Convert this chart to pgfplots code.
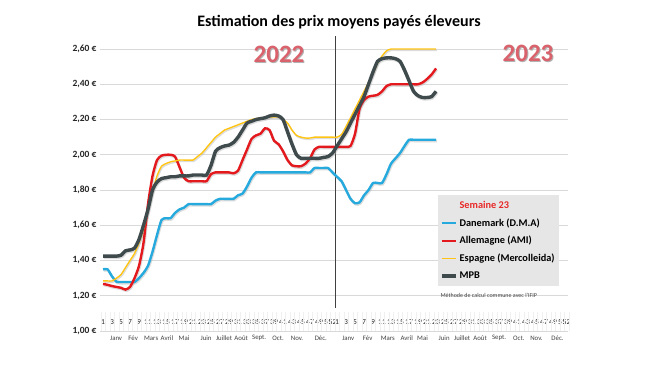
\documentclass[border=0pt]{standalone}
\usepackage{fontspec}
\setmainfont{Carlito}
\usepackage{pgfplots}
\usepackage{pgfplotstable}
\pgfplotsset{compat=1.18}
\definecolor{dkblue}{RGB}{38,170,222}
\definecolor{dered}{RGB}{228,25,30}
\definecolor{esyel}{RGB}{255,196,20}
\definecolor{mpbgray}{RGB}{62,74,76}
\definecolor{yearred}{RGB}{218,98,108}
\definecolor{legfill}{RGB}{231,230,230}
\definecolor{semred}{RGB}{232,40,40}

\pgfplotstableread{
w dk de es mpb
1 1.350 1.267 1.284 1.425
2 1.350 1.262 1.284 1.425
3 1.310 1.255 1.284 1.425
4 1.280 1.250 1.300 1.425
5 1.278 1.245 1.320 1.430
6 1.278 1.235 1.360 1.455
7 1.278 1.250 1.400 1.460
8 1.278 1.300 1.440 1.470
9 1.300 1.370 1.500 1.520
10 1.330 1.500 1.580 1.600
11 1.370 1.720 1.680 1.690
12 1.450 1.880 1.790 1.800
13 1.545 1.970 1.880 1.845
14 1.630 1.995 1.935 1.865
15 1.640 2.000 1.950 1.870
16 1.640 2.000 1.960 1.875
17 1.670 1.990 1.965 1.875
18 1.690 1.930 1.970 1.880
19 1.700 1.870 1.970 1.880
20 1.720 1.850 1.970 1.880
21 1.720 1.850 1.970 1.885
22 1.720 1.850 1.990 1.885
23 1.720 1.850 2.010 1.885
24 1.720 1.850 2.040 1.885
25 1.720 1.890 2.070 1.940
26 1.740 1.900 2.100 2.020
27 1.750 1.900 2.120 2.040
28 1.750 1.900 2.140 2.050
29 1.750 1.900 2.150 2.055
30 1.750 1.895 2.160 2.070
31 1.770 1.910 2.170 2.100
32 1.780 1.970 2.180 2.140
33 1.820 2.030 2.190 2.180
34 1.870 2.090 2.200 2.190
35 1.900 2.110 2.205 2.200
36 1.900 2.120 2.210 2.205
37 1.900 2.150 2.210 2.210
38 1.900 2.140 2.215 2.220
39 1.900 2.080 2.215 2.225
40 1.900 2.060 2.215 2.220
41 1.900 2.020 2.200 2.200
42 1.900 1.970 2.180 2.130
43 1.900 1.940 2.140 2.060
44 1.900 1.935 2.110 2.000
45 1.900 1.935 2.100 1.980
46 1.900 1.950 2.095 1.980
47 1.900 1.980 2.095 1.980
48 1.925 2.030 2.100 1.980
49 1.925 2.045 2.100 1.980
50 1.925 2.045 2.100 1.985
51 1.925 2.045 2.100 1.990
52 1.900 2.045 2.100 2.010
53 1.875 2.045 2.100 2.050
54 1.850 2.045 2.115 2.090
55 1.800 2.045 2.160 2.130
56 1.750 2.050 2.210 2.180
57 1.725 2.120 2.260 2.230
58 1.730 2.260 2.310 2.280
59 1.770 2.310 2.360 2.330
60 1.800 2.330 2.410 2.400
61 1.840 2.335 2.460 2.470
62 1.840 2.340 2.520 2.530
63 1.840 2.360 2.560 2.545
64 1.890 2.390 2.590 2.550
65 1.950 2.400 2.600 2.550
66 1.980 2.400 2.600 2.545
67 2.010 2.400 2.600 2.530
68 2.050 2.400 2.600 2.480
69 2.085 2.400 2.600 2.420
70 2.085 2.400 2.600 2.360
71 2.085 2.400 2.600 2.335
72 2.085 2.410 2.600 2.325
73 2.085 2.430 2.600 2.325
74 2.085 2.455 2.600 2.330
75 2.085 2.490 2.600 2.360
}\prices

\begin{document}
\begin{tikzpicture}[
  month/.style={font=\fontsize{6.8}{7}\selectfont, text=black!75, yshift=-7pt},
  shadow/.style={black!30, opacity=0.45, smooth, tension=0.4, xshift=0.8pt, yshift=-1.3pt}]
\useasboundingbox[fill=white] (0pt,0pt) rectangle (650pt,366pt);
\begin{axis}[
  at={(100pt,35pt)}, anchor=south west, scale only axis,
  width=467.9pt, height=295pt,
  xmin=0.33, xmax=104.3, ymin=1, ymax=2.674,
  axis line style={draw=none}, tick style={draw=none},
  ytick={1,1.2,1.4,1.6,1.8,2.0,2.2,2.4,2.6},
  yticklabels={{1,00 €},{1,20 €},{1,40 €},{1,60 €},{1,80 €},{2,00 €},{2,20 €},{2,40 €},{2,60 €}},
  yticklabel style={font=\bfseries\fontsize{9.5}{11}\selectfont, text=black!85},
  ymajorgrids, grid style={gray!30, line width=0.7pt},
  xtick={1,3,5,7,9,11,13,15,17,19,21,23,25,27,29,31,33,35,37,39,41,43,45,47,49,51,52,53,55,57,59,61,63,65,67,69,71,73,75,77,79,81,83,85,87,89,91,93,95,97,99,101,103,104},
  xticklabels={1,3,5,7,9,11,13,15,17,19,21,23,25,27,29,31,33,35,37,39,41,43,45,47,49,51,52,1,3,5,7,9,11,13,15,17,19,21,23,25,27,29,31,33,35,37,39,41,43,45,47,49,51,52},
  xticklabel style={font=\fontsize{7.6}{8}\selectfont, text=black!85, anchor=center, yshift=9pt},
  clip=false,
  legend style={at={(0.7224,0.461)}, anchor=north west, fill=legfill, draw=none,
    font=\bfseries\fontsize{10.3}{12}\selectfont, row sep=4.6pt, inner xsep=2pt, inner ysep=4pt,
    /tikz/every even column/.append style={column sep=0pt}},
  legend cell align=left,
  legend image code/.code={\draw[#1] (0pt,0pt) -- (14pt,0pt);},
]
\pgfplotsinvokeforeach{0.5,1.5,...,104.5}{\draw[gray!12, line width=0.4pt] (axis cs:#1,1.0) -- (axis cs:#1,1.105);}
\draw[black!75, line width=0.9pt] (axis cs:52.6,1.13) -- (axis cs:52.6,2.674);

\addlegendimage{empty legend}
\addlegendentry{\textcolor{semred}{Semaine 23}}

\addplot[forget plot, shadow, line width=2.4pt] table[x=w,y=dk]{\prices};
\addplot[forget plot, shadow, line width=2.4pt] table[x=w,y=de]{\prices};
\addplot[forget plot, shadow, line width=1.4pt] table[x=w,y=es]{\prices};
\addplot[forget plot, shadow, line width=3.4pt] table[x=w,y=mpb]{\prices};

\addplot[dkblue, line width=2.4pt, smooth, tension=0.4] table[x=w,y=dk]{\prices};
\addlegendentry{Danemark (D.M.A)}
\addplot[dered, line width=2.4pt, smooth, tension=0.4] table[x=w,y=de]{\prices};
\addlegendentry{Allemagne (AMI)}
\addplot[esyel, line width=1.4pt, smooth, tension=0.4] table[x=w,y=es]{\prices};
\addlegendentry{Espagne (Mercolleida)}
\addplot[mpbgray, line width=3.4pt, smooth, tension=0.4] table[x=w,y=mpb]{\prices};
\addlegendentry{MPB}

\node[month] at (axis cs:3.9,1) {Janv};
\node[month] at (axis cs:7.7,1) {Fév};
\node[month] at (axis cs:11.7,1) {Mars};
\node[month] at (axis cs:15.2,1) {Avril};
\node[month] at (axis cs:19,1) {Mai};
\node[month] at (axis cs:23.9,1) {Juin};
\node[month] at (axis cs:27.9,1) {Juillet};
\node[month] at (axis cs:31.7,1) {Août};
\node[month] at (axis cs:35.7,1) {Sept.};
\node[month] at (axis cs:39.9,1) {Oct.};
\node[month] at (axis cs:44.1,1) {Nov.};
\node[month] at (axis cs:49.4,1) {Déc.};
\node[month] at (axis cs:55.5,1) {Janv};
\node[month] at (axis cs:59.8,1) {Fév};
\node[month] at (axis cs:64.3,1) {Mars};
\node[month] at (axis cs:68.5,1) {Avril};
\node[month] at (axis cs:72,1) {Mai};
\node[month] at (axis cs:76.8,1) {Juin};
\node[month] at (axis cs:80.8,1) {Juillet};
\node[month] at (axis cs:84.8,1) {Août};
\node[month] at (axis cs:89,1) {Sept.};
\node[month] at (axis cs:93.4,1) {Oct.};
\node[month] at (axis cs:97.3,1) {Nov.};
\node[month] at (axis cs:102,1) {Déc.};
\end{axis}
\node[font=\bfseries\fontsize{16}{18}\selectfont] at (339pt,344pt) {Estimation des prix moyens payés éleveurs};
\node[font=\bfseries\fontsize{25}{28}\selectfont, text=black!30] at (280pt,311pt) {2022};
\node[font=\bfseries\fontsize{25}{28}\selectfont, text=yearred] at (279pt,312pt) {2022};
\node[font=\bfseries\fontsize{25}{28}\selectfont, text=black!30] at (529pt,312pt) {2023};
\node[font=\bfseries\fontsize{25}{28}\selectfont, text=yearred] at (528pt,313pt) {2023};
\node[font=\fontsize{6}{7}\selectfont, anchor=west, text=black!75] at (437pt,71pt) {Méthode de calcul commune avec l'IFIP};
\end{tikzpicture}
\end{document}
